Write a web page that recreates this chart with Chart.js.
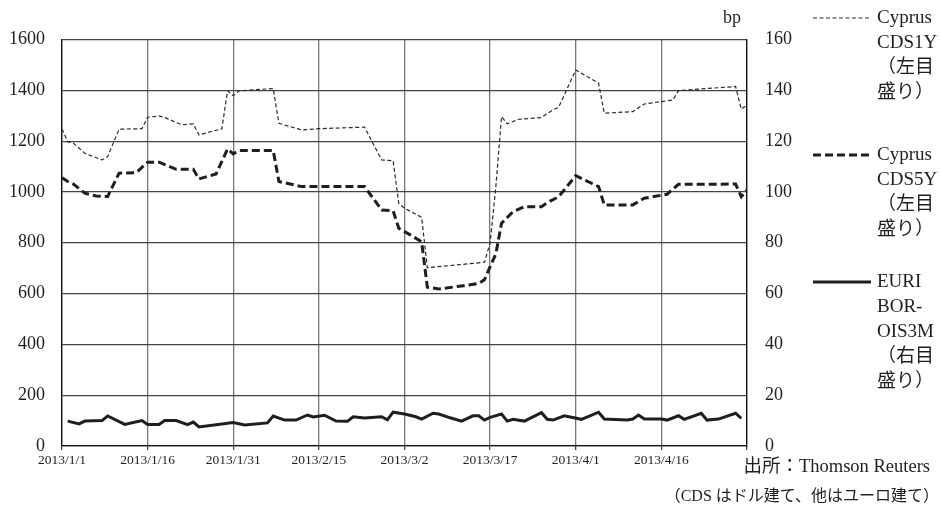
<!DOCTYPE html>
<html>
<head>
<meta charset="utf-8">
<script src="https://cdn.jsdelivr.net/npm/chart.js@4"></script>
<style>
  body { margin: 0; background: #fff; }
  #chart { display: block; }
</style>
</head>
<body>
<canvas id="chart" width="941" height="510"></canvas>
<script>
// values (bp); dates are 2013 M/D
let cds1yDates = ['1/1','1/2','1/3','1/5','1/8','1/9','1/11','1/15','1/16','1/18','1/19','1/22','1/24','1/25','1/27','1/29','1/30','1/31',
    '2/1','2/7','2/8','2/12','2/15','2/23','2/26','2/28','3/1','3/2','3/5','3/6','3/16','3/17','3/18','3/19','3/20','3/22','3/26','3/28','3/29',
    '4/1','4/5','4/6','4/11','4/13','4/18','4/19','4/29','4/30','5/1']
let cds1yValues = [1248,1198,1192,1152,1126,1139,1247,1249,1294,1299,1293,1264,1268,1224,1237,1248,1398,1379,
    1398,1407,1270,1244,1249,1255,1126,1123,955,936,900,702,723,800,1020,1296,1268,1286,1293,1323,1333,
    1480,1428,1310,1316,1346,1362,1399,1415,1326,1342]

let cds5yDates = ['1/1','1/2','1/3','1/5','1/7','1/9','1/11','1/14','1/16','1/18','1/21','1/24','1/25','1/28','1/30','1/31',
    '2/1','2/7','2/8','2/12','2/23','2/26','2/28','3/1','3/3','3/5','3/6','3/8','3/12','3/15','3/16','3/17','3/18','3/19','3/21','3/23','3/26','3/27','3/29',
    '4/1','4/5','4/6','4/11','4/13','4/17','4/19','4/29','4/30','5/1']
let cds5yValues = [1056,1041,1031,995,984,982,1074,1076,1117,1117,1089,1089,1051,1071,1169,1150,
    1163,1163,1041,1021,1021,929,926,857,831,804,625,618,630,640,654,706,756,877,922,942,942,958,981,
    1064,1021,949,949,975,991,1030,1031,981,1008]

let euriborDates = ['1/2','1/4','1/5','1/8','1/9','1/12','1/15','1/16','1/18','1/19','1/21','1/23','1/24','1/25','1/31',
    '2/2','2/6','2/7','2/9','2/11','2/13','2/14','2/16','2/18','2/20','2/21','2/23','2/26','2/27','2/28',
    '3/2','3/4','3/5','3/7','3/8','3/10','3/12','3/14','3/15','3/16','3/17','3/19','3/20','3/21','3/23','3/26','3/27','3/28','3/30',
    '4/2','4/5','4/6','4/10','4/11','4/12','4/13','4/16','4/17','4/19','4/20','4/23','4/24','4/26','4/29','4/30']
let euriborValues = [9.8,8.7,9.8,10.0,11.8,8.5,10.0,8.5,8.5,10.0,10.0,8.4,9.4,7.5,9.2,
    8.3,9.1,11.8,10.2,10.2,12.2,11.4,12.1,9.8,9.7,11.5,11.0,11.5,10.3,13.3,
    12.6,11.5,10.6,12.9,12.6,11.1,9.8,11.9,11.9,10.2,11.3,12.6,9.8,10.5,9.8,13.1,10.5,10.2,11.9,
    10.5,13.3,10.6,10.2,10.6,12.2,10.6,10.6,10.2,11.9,10.5,12.9,10.2,10.6,12.9,10.9]

let leftTicks = [0, 1600, 200]
let rightTicks = [0, 160, 20]
let dayTicks = [0, 120, 15]

let legendLines = [
    ['Cyprus', 'CDS1Y', '（左目', '盛り）'],
    ['Cyprus', 'CDS5Y', '（左目', '盛り）'],
    ['EURI', 'BOR-', 'OIS3M', '（右目', '盛り）']
]
let sourceNote = '出所：Thomson Reuters'
let currencyNote = '（CDS はドル建て、他はユーロ建て）'

const FONT = "'Liberation Serif', 'Noto Sans CJK JP', serif"
const ink = '#1e1e1e'

// day number counted from 2013/1/1
function dayOf(md) {
    let p = md.split('/')
    return (Date.UTC(2013, p[0] - 1, +p[1]) - Date.UTC(2013, 0, 1)) / 86400000
}
function toPoints(dates, values) {
    return dates.map((d, i) => ({ x: dayOf(d), y: values[i] }))
}
function dayLabel(n) {
    let d = new Date(Date.UTC(2013, 0, 1 + n))
    return d.getUTCFullYear() + '/' + (d.getUTCMonth() + 1) + '/' + d.getUTCDate()
}

// legend, unit and notes drawn on the canvas
let sidePlugin = {
    id: 'side',
    afterDraw(chart) {
        let c = chart.ctx
        c.save()
        c.fillStyle = ink
        c.textBaseline = 'middle'
        c.font = '18px ' + FONT
        c.textAlign = 'left'
        c.fillText('bp', 723, 18)

        let starts = [18, 155, 282]
        chart.data.datasets.forEach((ds, i) => {
            let y = starts[i]
            c.beginPath()
            c.strokeStyle = ds.borderColor
            c.lineWidth = ds.borderWidth
            c.setLineDash(ds.borderDash || [])
            c.moveTo(813, y)
            c.lineTo(871, y)
            c.stroke()
            c.setLineDash([])
            c.font = '19px ' + FONT
            legendLines[i].forEach((t, k) => c.fillText(t, 877, y + k * 25))
        })

        c.textAlign = 'right'
        c.font = '18.5px ' + FONT
        c.fillText(sourceNote, 930, 467)
        c.font = '16px ' + FONT
        c.fillText(currencyNote, 939, 497)
        c.restore()
    }
}

let ctx = document.getElementById('chart').getContext('2d')
let chart = new Chart(ctx, {
    type: 'line',
    data: {
        datasets: [{
            label: 'Cyprus CDS1Y',
            data: toPoints(cds1yDates, cds1yValues),
            yAxisID: 'y',
            borderColor: '#2a2a2a',
            borderWidth: 1.2,
            borderDash: [4, 2.5]
        }, {
            label: 'Cyprus CDS5Y',
            data: toPoints(cds5yDates, cds5yValues),
            yAxisID: 'y',
            borderColor: ink,
            borderWidth: 3,
            borderDash: [8, 4]
        }, {
            label: 'EURIBOR-OIS3M',
            data: toPoints(euriborDates, euriborValues),
            yAxisID: 'y1',
            borderColor: ink,
            borderWidth: 3
        }]
    },
    options: {
        responsive: false,
        animation: false,
        devicePixelRatio: 1,
        elements: { point: { radius: 0 }, line: { tension: 0 } },
        layout: { padding: { top: 39.5, right: 134, bottom: 0, left: 0 } },
        plugins: { legend: { display: false }, tooltip: { enabled: false } },
        scales: {
            x: {
                type: 'linear',
                min: dayTicks[0], max: dayTicks[1],
                afterFit: s => { s.height = 64 },
                grid: { color: '#777', lineWidth: 1.3, tickLength: 4, tickColor: '#444' },
                border: { color: '#111', width: 1.3 },
                ticks: {
                    stepSize: dayTicks[2],
                    padding: 2,
                    maxRotation: 0,
                    autoSkip: false,
                    color: ink,
                    font: { family: FONT, size: 13.5 },
                    callback: v => v >= dayTicks[1] ? '' : dayLabel(v)
                }
            },
            y: {
                position: 'left',
                min: leftTicks[0], max: leftTicks[1],
                afterFit: s => { s.width = 62 },
                grid: { color: '#444', lineWidth: 1.2, drawTicks: false },
                border: { color: '#111', width: 1.3 },
                ticks: { stepSize: leftTicks[2], padding: 17, color: ink, font: { family: FONT, size: 18 }, callback: v => String(v) }
            },
            y1: {
                position: 'right',
                min: rightTicks[0], max: rightTicks[1],
                afterFit: s => { s.width = 60 },
                grid: { drawOnChartArea: false, drawTicks: false },
                border: { color: '#111', width: 1.3 },
                ticks: { stepSize: rightTicks[2], padding: 18, color: ink, font: { family: FONT, size: 18 }, callback: v => String(v) }
            }
        }
    },
    plugins: [sidePlugin]
})
</script>
</body>
</html>
